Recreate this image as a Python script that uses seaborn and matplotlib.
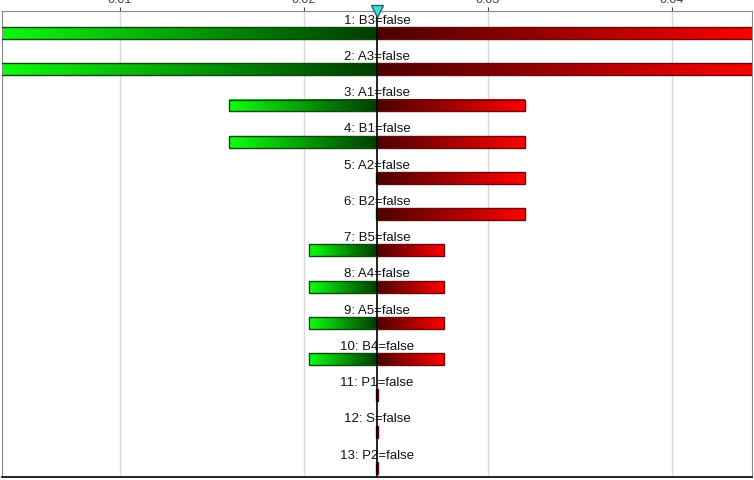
import numpy as np
import matplotlib
matplotlib.use("Agg")
import matplotlib.pyplot as plt
import seaborn as sns
from matplotlib.patches import Rectangle

# tornado data: label, low end, high end (base = expected value)
labels = ["1: B3=false", "2: A3=false", "3: A1=false", "4: B1=false", "5: A2=false",
          "6: B2=false", "7: B5=false", "8: A4=false", "9: A5=false", "10: B4=false",
          "11: P1=false", "12: S=false", "13: P2=false"]
low = [0.0030, 0.0030, 0.0159, 0.0159, 0.02392, 0.02392, 0.0203, 0.0203, 0.0203, 0.0203,
       0.02392, 0.02392, 0.02392]
high = [0.0450, 0.0450, 0.0320, 0.0320, 0.0320, 0.0320, 0.0276, 0.0276, 0.0276, 0.0276,
        0.02402, 0.02402, 0.02402]
base = 0.02397
ticks = [0.01, 0.02, 0.03, 0.04]

sns.set_theme(style="white")
plt.rcParams['font.family'] = ['Liberation Sans', 'DejaVu Sans']

green = sns.blend_palette(["#10ff10", "#003c00"], as_cmap=True)
red = sns.blend_palette(["#4a0000", "#ff0000"], as_cmap=True)
grad = np.linspace(0, 1, 256).reshape(1, -1)

fig = plt.figure(figsize=(7.54, 4.81), dpi=100)
ax = fig.add_axes([2 / 754, 1 - 478 / 481, 750 / 754, 466 / 481])

h = 0.33
for i, (lab, lo, hi) in enumerate(zip(labels, low, high)):
    ax.imshow(grad, cmap=green, aspect="auto", extent=(lo, base, i + h / 2, i - h / 2),
              zorder=2, interpolation="bilinear")
    ax.imshow(grad, cmap=red, aspect="auto", extent=(base, hi, i + h / 2, i - h / 2),
              zorder=2, interpolation="bilinear")
    ax.add_patch(Rectangle((lo, i - h / 2), base - lo, h, fill=False,
                           edgecolor="#0a4a0a", lw=1.0, zorder=3))
    ax.add_patch(Rectangle((base, i - h / 2), hi - base, h, fill=False,
                           edgecolor="#6a0a0a", lw=1.0, zorder=3))
    ax.text(base, i - 0.37, lab, ha="center", va="center", fontsize=9.5,
            color="#111111", zorder=4)

ax.axvline(base, color="black", lw=1.2, zorder=5)
ax.set_xlim(0.00359, 0.04435)
ax.set_ylim(12.25, -0.607)
ax.set_xticks(ticks)
ax.set_xticklabels([f"{t:.2f}" for t in ticks])
ax.set_yticks([])
ax.grid(axis="x", color="#d8d8d8", lw=1.0, zorder=0)
ax.xaxis.tick_top()
ax.tick_params(axis="x", which="both", top=True, length=3, width=0.8, colors="#444444",
               labelsize=9, pad=1)
for side in ["left", "right", "top"]:
    ax.spines[side].set_color("#888888")
    ax.spines[side].set_linewidth(0.8)
ax.spines["bottom"].set_color("black")
ax.spines["bottom"].set_linewidth(1.2)

ax.plot([base], [-0.607], marker="v", markersize=8, color="#40e0e0",
        markeredgecolor="#206060", clip_on=False, zorder=6)

fig.savefig("out.png", dpi=100)
